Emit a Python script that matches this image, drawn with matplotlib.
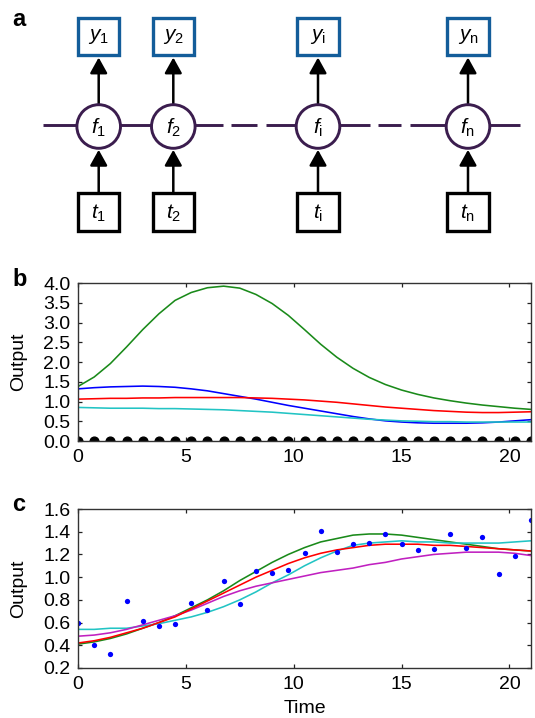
import numpy as np
import matplotlib
matplotlib.use("Agg")
import matplotlib.pyplot as plt
from matplotlib.patches import Circle, Rectangle

plt.rcParams['font.family'] = ['Liberation Sans', 'DejaVu Sans']
plt.rcParams['mathtext.fontset'] = 'custom'
plt.rcParams['mathtext.rm'] = 'Liberation Sans'
plt.rcParams['mathtext.it'] = 'Liberation Sans:italic'

# ---------------- data ----------------
time = np.linspace(0, 21, 29)

b_green = [1.38, 1.62, 1.96, 2.38, 2.82, 3.22, 3.56, 3.76, 3.88, 3.92, 3.87, 3.71, 3.48, 3.18,
           2.82, 2.45, 2.12, 1.84, 1.61, 1.43, 1.29, 1.18, 1.09, 1.02, 0.96, 0.91, 0.87, 0.83, 0.80]
b_blue = [1.32, 1.35, 1.37, 1.38, 1.39, 1.38, 1.36, 1.32, 1.27, 1.20, 1.13, 1.06, 0.98, 0.90,
          0.83, 0.76, 0.69, 0.62, 0.56, 0.51, 0.48, 0.46, 0.45, 0.45, 0.45, 0.46, 0.48, 0.51, 0.54]
b_red = [1.06, 1.07, 1.08, 1.08, 1.09, 1.09, 1.10, 1.10, 1.10, 1.10, 1.10, 1.09, 1.08, 1.06,
         1.04, 1.01, 0.98, 0.94, 0.90, 0.86, 0.83, 0.80, 0.77, 0.75, 0.73, 0.72, 0.72, 0.73, 0.74]
b_cyan = [0.85, 0.84, 0.83, 0.83, 0.83, 0.82, 0.82, 0.81, 0.80, 0.79, 0.77, 0.75, 0.73, 0.70,
          0.67, 0.64, 0.61, 0.58, 0.55, 0.53, 0.51, 0.50, 0.49, 0.49, 0.48, 0.48, 0.48, 0.48, 0.48]
b_inputs = [0.0] * 29

c_green = [0.41, 0.43, 0.46, 0.50, 0.55, 0.60, 0.66, 0.73, 0.80, 0.88, 0.97, 1.05, 1.13, 1.20,
           1.26, 1.31, 1.34, 1.37, 1.38, 1.38, 1.37, 1.35, 1.33, 1.31, 1.29, 1.27, 1.25, 1.24, 1.23]
c_red = [0.42, 0.44, 0.47, 0.51, 0.55, 0.60, 0.65, 0.72, 0.79, 0.86, 0.93, 1.00, 1.06, 1.12,
         1.17, 1.21, 1.24, 1.26, 1.28, 1.29, 1.29, 1.29, 1.28, 1.28, 1.27, 1.26, 1.25, 1.24, 1.23]
c_cyan = [0.54, 0.54, 0.55, 0.55, 0.57, 0.59, 0.62, 0.65, 0.69, 0.74, 0.80, 0.87, 0.95, 1.02,
          1.10, 1.17, 1.23, 1.28, 1.30, 1.31, 1.32, 1.31, 1.31, 1.30, 1.30, 1.30, 1.30, 1.31, 1.32]
c_magenta = [0.48, 0.49, 0.51, 0.54, 0.58, 0.62, 0.66, 0.71, 0.77, 0.83, 0.88, 0.92, 0.95, 0.98,
             1.01, 1.04, 1.06, 1.08, 1.11, 1.13, 1.16, 1.18, 1.20, 1.21, 1.22, 1.22, 1.22, 1.21, 1.19]
c_obs = [0.60, 0.40, 0.32, 0.79, 0.61, 0.57, 0.59, 0.77, 0.71, 0.97, 0.76, 1.05, 1.04, 1.06,
         1.21, 1.41, 1.22, 1.29, 1.30, 1.38, 1.29, 1.24, 1.25, 1.38, 1.26, 1.35, 1.03, 1.19, 1.50]

xticks = [0, 5, 10, 15, 20]
b_yticks = [0.0, 0.5, 1.0, 1.5, 2.0, 2.5, 3.0, 3.5, 4.0]
c_yticks = [0.2, 0.4, 0.6, 0.8, 1.0, 1.2, 1.4, 1.6]

node_sub = ['1', '2', 'i', 'n']

# ---------------- figure ----------------
W, H = 535, 718
fig = plt.figure(figsize=(W / 100, H / 100), dpi=100)

# panel a diagram (pixel coordinate overlay)
ax0 = fig.add_axes([0, 0, 1, 1])
ax0.set_xlim(0, W)
ax0.set_ylim(H, 0)
ax0.axis('off')

purple = '#3b1d4e'
boxblue = '#135d9a'
node_x = [98.7, 173.3, 318, 468]
cy, r = 126.5, 21.8
ybox_c, tbox_c = 36.3, 212.0
bw, bh = 41.5, 37.5
fs_node = 15

# horizontal chain with dashes
segs = [(43, 223), (231, 257), (266, 370), (378, 401), (410, 520)]
for a, b in segs:
    ax0.plot([a, b], [125, 125], color=purple, lw=2.1, solid_capstyle='butt', zorder=1)

for x, s in zip(node_x, node_sub):
    ax0.add_patch(Circle((x, cy), r, facecolor='white', edgecolor=purple, lw=2.1, zorder=3))
    ax0.text(x, cy + 1, r'$\mathit{f}_{\mathrm{%s}}$' % s, ha='center', va='center',
             fontsize=fs_node, zorder=4)
    ax0.add_patch(Rectangle((x - bw / 2, ybox_c - bh / 2), bw, bh, facecolor='white',
                            edgecolor=boxblue, lw=2.4, zorder=3))
    ax0.text(x, ybox_c, r'$\mathit{y}_{\mathrm{%s}}$' % s, ha='center', va='center',
             fontsize=fs_node, zorder=4)
    ax0.add_patch(Rectangle((x - bw / 2, tbox_c - bh / 2), bw, bh, facecolor='white',
                            edgecolor='black', lw=2.4, zorder=3))
    ax0.text(x, tbox_c + 1, r'$\mathit{t}_{\mathrm{%s}}$' % s, ha='center', va='center',
             fontsize=fs_node, zorder=4)
    # arrows
    ax0.annotate('', xy=(x, 57.5), xytext=(x, cy - r - 1),
                 arrowprops=dict(arrowstyle='-|>,head_length=0.45,head_width=0.25',
                                 mutation_scale=21, lw=1.8, color='black',
                                 shrinkA=0, shrinkB=0), zorder=2)
    ax0.annotate('', xy=(x, cy + r + 1.5), xytext=(x, tbox_c - bh / 2 - 1),
                 arrowprops=dict(arrowstyle='-|>,head_length=0.45,head_width=0.25',
                                 mutation_scale=21, lw=1.8, color='black',
                                 shrinkA=0, shrinkB=0), zorder=2)

fig.text(12 / W, 1 - 26.5 / H, 'a', fontsize=17, fontweight='bold', ha='left', va='baseline')
fig.text(12 / W, 1 - 286 / H, 'b', fontsize=17, fontweight='bold', ha='left', va='baseline')
fig.text(12 / W, 1 - 511 / H, 'c', fontsize=17, fontweight='bold', ha='left', va='baseline')

left = 78 / W
width = (531 - 78) / W
axb = fig.add_axes([left, 1 - 441 / H, width, (441 - 283) / H])
axc = fig.add_axes([left, 1 - 668 / H, width, (668 - 509) / H])

fs = 14


def style(ax):
    ax.set_xlim(0, 21)
    ax.set_xticks(xticks)
    ax.tick_params(direction='in', length=3, width=0.9, top=True, right=True,
                   labelsize=fs, pad=5.5, colors='#222222', labelcolor='black')
    for sp in ax.spines.values():
        sp.set_linewidth(1.0)
        sp.set_color('#333333')
    ax.set_ylabel('Output', fontsize=fs)
    ax.yaxis.set_label_coords(-0.112, 0.5)


lw = 1.15
axb.plot(time, b_green, color='#1a8a1a', lw=lw)
axb.plot(time, b_blue, color='#0000ff', lw=lw)
axb.plot(time, b_red, color='#ff0000', lw=lw)
axb.plot(time, b_cyan, color='#22c4c4', lw=lw)
axb.plot(time, b_inputs, 'o', color='black', ms=6.3, clip_on=True)
axb.set_ylim(0, 4)
axb.set_yticks(b_yticks)
axb.set_yticklabels(['%.1f' % v for v in b_yticks])
style(axb)

axc.plot(time, c_green, color='#1a8a1a', lw=lw)
axc.plot(time, c_cyan, color='#22c4c4', lw=lw)
axc.plot(time, c_magenta, color='#c020c0', lw=lw)
axc.plot(time, c_red, color='#ff0000', lw=lw)
axc.plot(time, c_obs, 'o', color='#0000ff', ms=3.8, mew=0, clip_on=True)
axc.set_ylim(0.2, 1.6)
axc.set_yticks(c_yticks)
axc.set_yticklabels(['%.1f' % v for v in c_yticks])
style(axc)
axc.set_xlabel('Time', fontsize=fs)
axc.xaxis.set_label_coords(0.5, -0.2)

fig.savefig('out.png', dpi=100)
